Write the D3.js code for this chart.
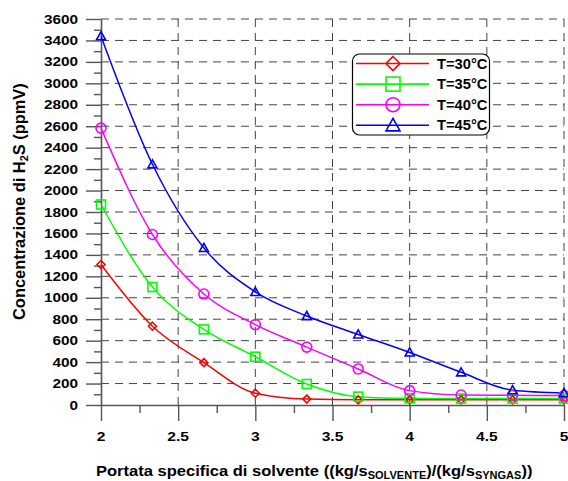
<!DOCTYPE html>
<html><head><meta charset="utf-8">
<script src="https://cdn.jsdelivr.net/npm/d3@7"></script>
<style>body{margin:0;background:#fff}svg{display:block}text{font-family:"Liberation Sans",Arial,sans-serif;font-weight:bold}</style>
</head><body>
<svg id="c" width="568" height="481"></svg>
<script>
const xValues = [2, 2.3333, 2.6667, 3, 3.3333, 3.6667, 4, 4.3333, 4.6667, 5];
const t30 = [1310, 735, 395, 110, 55, 48, 48, 48, 48, 48];
const t35 = [1870, 1100, 705, 450, 196, 78, 62, 60, 60, 60];
const t40 = [2582, 1590, 1035, 750, 540, 336, 134, 93, 90, 88];
const t45 = [3440, 2245, 1465, 1055, 830, 658, 490, 305, 138, 112];
const seriesNames = ["T=30°C", "T=35°C", "T=40°C", "T=45°C"];
const seriesColors = ["#ff0000", "#00ff00", "#ff00ff", "#0000ff"];
const seriesMarkers = ["diamond", "square", "circle", "triangle"];
const xTicks = [2, 2.5, 3, 3.5, 4, 4.5, 5];
const yTicks = d3.range(0, 3601, 200);

const svg = d3.select("#c");
const x = d3.scaleLinear().domain([2, 5]).range([101, 564]);
const y = d3.scaleLinear().domain([0, 3600]).range([405, 19]);
const series = [t30, t35, t40, t45];

// grid
const grid = svg.append("g").attr("stroke", "#444").attr("stroke-width", 1).attr("stroke-dasharray", "8,6");
yTicks.filter(v => v > 0).forEach(v => grid.append("line").attr("x1", x(2)).attr("x2", x(5)).attr("y1", y(v)).attr("y2", y(v)));
xTicks.filter(v => v > 2).forEach(v => grid.append("line").attr("x1", x(v)).attr("x2", x(v)).attr("y1", y(0)).attr("y2", y(3600)));

// axes
const axisColor = "#555";
const yAxis = svg.append("g").attr("transform", `translate(${x(2)},0)`)
  .call(d3.axisLeft(y).tickValues(yTicks).tickSize(15).tickSizeOuter(0).tickFormat(""));
const yMinor = svg.append("g").attr("transform", `translate(${x(2)},0)`)
  .call(d3.axisLeft(y).tickValues(d3.range(100, 3600, 200)).tickSize(7).tickFormat(""));
const xAxis = svg.append("g").attr("transform", `translate(0,${y(0)})`)
  .call(d3.axisBottom(x).tickValues(xTicks).tickSize(16).tickSizeOuter(0).tickFormat(""));
const xMinor = svg.append("g").attr("transform", `translate(0,${y(0)})`)
  .call(d3.axisBottom(x).tickValues([2.25, 2.75, 3.25, 3.75, 4.25, 4.75]).tickSize(8).tickFormat(""));
[yAxis, yMinor, xAxis, xMinor].forEach(g => {
  g.selectAll("path").attr("stroke", axisColor).attr("stroke-width", 1.6);
  g.selectAll("line").attr("stroke", axisColor).attr("stroke-width", 1.4);
});
yMinor.select("path").remove();
xMinor.select("path").remove();

// stretched text helper
function stext(px, py, anchor, size, sx, txt, rot) {
  const g = svg.append("g").attr("transform", `translate(${px},${py})` + (rot ? ` rotate(${rot})` : ""));
  return g.append("text").attr("transform", `scale(${sx},1)`).attr("text-anchor", anchor).attr("font-size", size).text(txt || null);
}
yTicks.forEach(v => stext(78, y(v) + 4.6, "end", 13, 1.18, String(v)));
xTicks.forEach(v => stext(x(v), 441, "middle", 13, 1.2, String(v)));

// symbols
function marker(g, type, cx, cy, s, color) {
  let el;
  if (type === "diamond") el = g.append("path").attr("d", `M${cx},${cy - s}L${cx + s},${cy}L${cx},${cy + s}L${cx - s},${cy}Z`);
  else if (type === "square") el = g.append("rect").attr("x", cx - s).attr("y", cy - s).attr("width", 2 * s).attr("height", 2 * s);
  else if (type === "circle") el = g.append("circle").attr("cx", cx).attr("cy", cy).attr("r", s);
  else el = g.append("path").attr("d", `M${cx},${cy - s}L${cx + s},${cy + s * 0.8}L${cx - s},${cy + s * 0.8}Z`);
  el.attr("fill", "none").attr("stroke", color).attr("stroke-width", 1.6);
}

const line = d3.line().x((d, i) => x(xValues[i])).y(d => y(d)).curve(d3.curveMonotoneX);
const plot = svg.append("g");
series.forEach((s, k) => {
  plot.append("path").datum(s).attr("d", line).attr("fill", "none").attr("stroke", seriesColors[k]).attr("stroke-width", 1.5);
});
const msz = [4, 4.5, 5, 4.5];
series.forEach((s, k) => {
  s.forEach((v, i) => marker(plot, seriesMarkers[k], x(xValues[i]), y(v), msz[k], seriesColors[k]));
});

// legend
const lg = svg.append("g");
lg.append("rect").attr("x", 352.5).attr("y", 54).attr("width", 137).attr("height", 81).attr("rx", 7)
  .attr("fill", "#fff").attr("stroke", "#000").attr("stroke-width", 1.2);
seriesNames.forEach((n, k) => {
  const cy = 63.5 + k * 20.6;
  lg.append("line").attr("x1", 356).attr("x2", 429).attr("y1", cy).attr("y2", cy).attr("stroke", seriesColors[k]).attr("stroke-width", 1.6);
  marker(lg, seriesMarkers[k], 393, cy, 7, seriesColors[k]);
  stext(437, cy + 5, "start", 14, 1.05, n);
});

// axis titles
const xt = stext(0, 0, "start", 15, 1, "");
xt.append("tspan").text("Portata specifica di solvente ((kg/s");
xt.append("tspan").attr("font-size", 10).attr("dy", 3).text("SOLVENTE");
xt.append("tspan").attr("dy", -3).text(")/(kg/s");
xt.append("tspan").attr("font-size", 10).attr("dy", 3).text("SYNGAS");
xt.append("tspan").attr("dy", -3).text("))");
{
  const w = xt.node().getComputedTextLength();
  const sx = 437 / w;
  xt.attr("transform", `scale(${sx},1)`);
  d3.select(xt.node().parentNode).attr("transform", `translate(96,475.5)`);
}

const yt = stext(0, 0, "start", 16, 1, "");
yt.append("tspan").text("Concentrazione di H");
yt.append("tspan").attr("font-size", 10.5).attr("dy", 3).text("2");
yt.append("tspan").attr("dy", -3).text("S (ppmV)");
{
  const w = yt.node().getComputedTextLength();
  const sx = 237 / w;
  yt.attr("transform", `scale(${sx},1)`);
  d3.select(yt.node().parentNode).attr("transform", `translate(25,320) rotate(-90)`);
}
</script>
</body></html>
